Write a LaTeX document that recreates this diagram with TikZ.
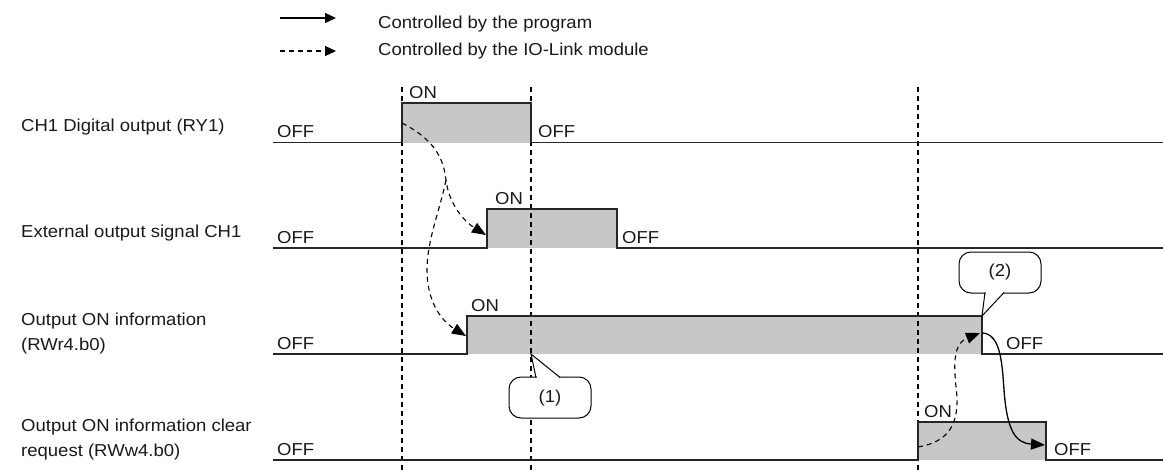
\documentclass[tikz,border=0pt]{standalone}
\usepackage{fontspec}
\setmainfont{Liberation Sans}[FakeStretch=1.07]
\usetikzlibrary{arrows.meta}
\begin{document}
\begin{tikzpicture}[x=1pt,y=-1pt,
  every node/.style={font=\fontsize{17.3}{25}\selectfont, inner sep=0pt, text=black!90},
  sig/.style={line width=1.5pt, draw=black!85},
  hi/.style={fill=black!22},
  vdash/.style={line width=1.2pt, dash pattern=on 5pt off 4pt},
  cdash/.style={line width=1.1pt, dash pattern=on 5pt off 4pt},
  tipa/.style={-{Triangle[length=14pt,width=11pt]}},
  lbl/.style={anchor=base west},
  rowlbl/.style={anchor=base west, align=left},
  callout/.style={draw, fill=white, rounded corners=12pt, line width=1pt}
]
\useasboundingbox (0,0) rectangle (1163,472);

% legend
\coordinate (ls1) at (280,18); \coordinate (le1) at (336,18);
\coordinate (ls2) at (280,51); \coordinate (le2) at (336,51);
\draw[line width=1.4pt, -{Triangle[length=11pt,width=10pt]}] (ls1) -- (le1);
\draw[line width=1.2pt, dash pattern=on 5pt off 4pt, -{Triangle[length=11pt,width=10pt]}] (ls2) -- (le2);
\node[lbl] (lg1) at (378,28.5) {Controlled by the program};
\node[lbl] (lg2) at (378,55.5) {Controlled by the IO-Link module};

% gray ON areas
\fill[hi] (402,103) rectangle (531,142.5);
\fill[hi] (487,209) rectangle (617,248);
\fill[hi] (467,316) rectangle (982,354);
\fill[hi] (918,422) rectangle (1046,460);

% vertical dashed timing lines
\coordinate (v1t) at (402,87); \coordinate (v1b) at (402,472);
\coordinate (v2t) at (531,87); \coordinate (v2b) at (531,472);
\coordinate (v3t) at (918,87); \coordinate (v3b) at (918,472);
\draw[vdash] (v1t) -- (v1b);
\draw[vdash] (v2t) -- (v2b);
\draw[vdash] (v3t) -- (v3b);

% signals
\draw[sig] (273,142.5) -- (402,142.5) -- (402,103) -- (531,103) -- (531,142.5) -- (1163,142.5);
\draw[sig] (273,248) -- (487,248) -- (487,209) -- (617,209) -- (617,248) -- (1163,248);
\draw[sig] (273,354) -- (467,354) -- (467,316) -- (982,316) -- (982,354) -- (1163,354);
\draw[sig] (273,460) -- (918,460) -- (918,422) -- (1046,422) -- (1046,460) -- (1163,460);

% row labels
\node[lbl] (r1) at (21,131) {CH1 Digital output (RY1)};
\node[lbl] (r2) at (21,237) {External output signal CH1};
\node[rowlbl] (r3) at (21,350) {Output ON information\\(RWr4.b0)};
\node[rowlbl] (r4) at (21,456) {Output ON information clear\\request (RWw4.b0)};

% OFF / ON labels
\node[lbl] (o1) at (277,137.5) {OFF};
\node[lbl] (o2) at (277,243) {OFF};
\node[lbl] (o3) at (277,349) {OFF};
\node[lbl] (o4) at (277,455) {OFF};
\node[lbl] (n1) at (409,98) {ON};
\node[lbl] (n2) at (495,204) {ON};
\node[lbl] (n3) at (471,311) {ON};
\node[lbl] (n4) at (924,417) {ON};
\node[lbl] (f1) at (538,137.5) {OFF};
\node[lbl] (f2) at (622,243) {OFF};
\node[lbl] (f3) at (1006,349) {OFF};
\node[lbl] (f4) at (1054,455) {OFF};

% callout (1)
\draw[callout] (509,377) rectangle (591,418);
\draw[white, line width=2.2pt] (537,377) -- (559,377);
\coordinate (c1) at (531,354);
\draw[line width=1pt] (536,377.5) -- (c1) -- (560,377.5);
\node (t1) at (550,398) {(1)};

% callout (2)
\draw[callout] (959,252) rectangle (1041,293);
\draw[white, line width=2.2pt] (986,293) -- (1003,293);
\coordinate (c2) at (982,316);
\draw[line width=1pt] (985,292.5) -- (c2) -- (1004,292.5);
\node (t2) at (1000,272) {(2)};

% transition arrows
\coordinate (a0) at (402,123);
\coordinate (ab) at (446,180);
\coordinate (a1) at (486,235);
\coordinate (a2) at (466,336);
\draw[cdash, tipa] (a0) .. controls (425,135) and (443,150) .. (ab) .. controls (449,205) and (465,222) .. (a1);
\draw[cdash, tipa] (ab) .. controls (440,210) and (427,240) .. (427,270) .. controls (427,300) and (440,320) .. (a2);

\coordinate (b0) at (918,447);
\coordinate (b1) at (980,333);
\coordinate (b2) at (983,333);
\coordinate (b3) at (1045,445);
\draw[cdash, tipa] (b0) .. controls (948,442) and (958,425) .. (957,397) .. controls (955,375) and (950,345) .. (b1);
\draw[line width=1.3pt, tipa] (b2) .. controls (1000,335) and (1002,360) .. (1004,390) .. controls (1007,430) and (1015,443) .. (b3);
\end{tikzpicture}
\end{document}
